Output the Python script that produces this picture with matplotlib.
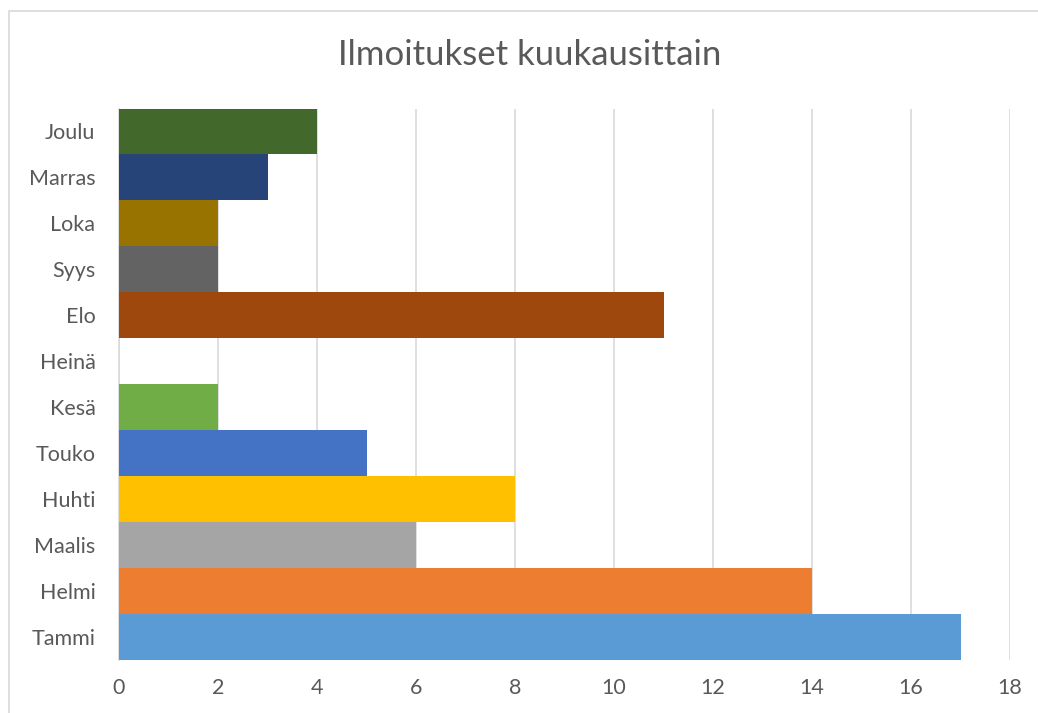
import matplotlib.pyplot as plt
from matplotlib.patches import Rectangle

months = ['Tammi', 'Helmi', 'Maalis', 'Huhti', 'Touko', 'Kesä',
          'Heinä', 'Elo', 'Syys', 'Loka', 'Marras', 'Joulu']
counts = [17, 14, 6, 8, 5, 2, 0, 11, 2, 2, 3, 4]
bar_colors = ['#5B9BD5', '#ED7D31', '#A5A5A5', '#FFC000', '#4472C4', '#70AD47',
              '#255E91', '#9E480E', '#636363', '#997300', '#264478', '#43682B']
xticks = [0, 2, 4, 6, 8, 10, 12, 14, 16, 18]

plt.rcParams['font.family'] = ['Lato', 'DejaVu Sans']
text_color = '#595959'
grid_color = '#D9D9D9'

fig = plt.figure(figsize=(10.38, 7.13), dpi=100)
ax = fig.add_axes([119 / 1038, 1 - 660 / 713, (1010 - 119) / 1038, (660 - 108.5) / 713])

# chart frame (runs off the right and bottom edge like in the original)
fig.patches.append(Rectangle((9 / 1038, -0.05), 1.1, 1 - 11 / 713 + 0.05,
                             transform=fig.transFigure, fill=False,
                             edgecolor=grid_color, linewidth=1.2))

pos = range(len(months))
ax.barh(pos, counts, height=1.0, color=bar_colors, zorder=3)

ax.set_xlim(0, 18)
ax.set_ylim(-0.5, len(months) - 0.5)
ax.set_xticks(xticks)
ax.set_xticklabels([str(t) for t in xticks])
ax.set_yticks(list(pos))
ax.set_yticklabels(months)
ax.tick_params(axis='both', length=0, labelsize=15.5, colors=text_color)
ax.tick_params(axis='x', pad=13)
ax.tick_params(axis='y', pad=17)

ax.grid(axis='x', color=grid_color, linewidth=1.2, zorder=0)
for s in ['top', 'right', 'bottom']:
    ax.spines[s].set_visible(False)
ax.spines['left'].set_color(grid_color)
ax.spines['left'].set_linewidth(1.2)

fig.text(530 / 1038, 1 - 55 / 713, 'Ilmoitukset kuukausittain', ha='center', va='center',
         fontsize=25, color=text_color)

fig.savefig('out.png', dpi=100)
